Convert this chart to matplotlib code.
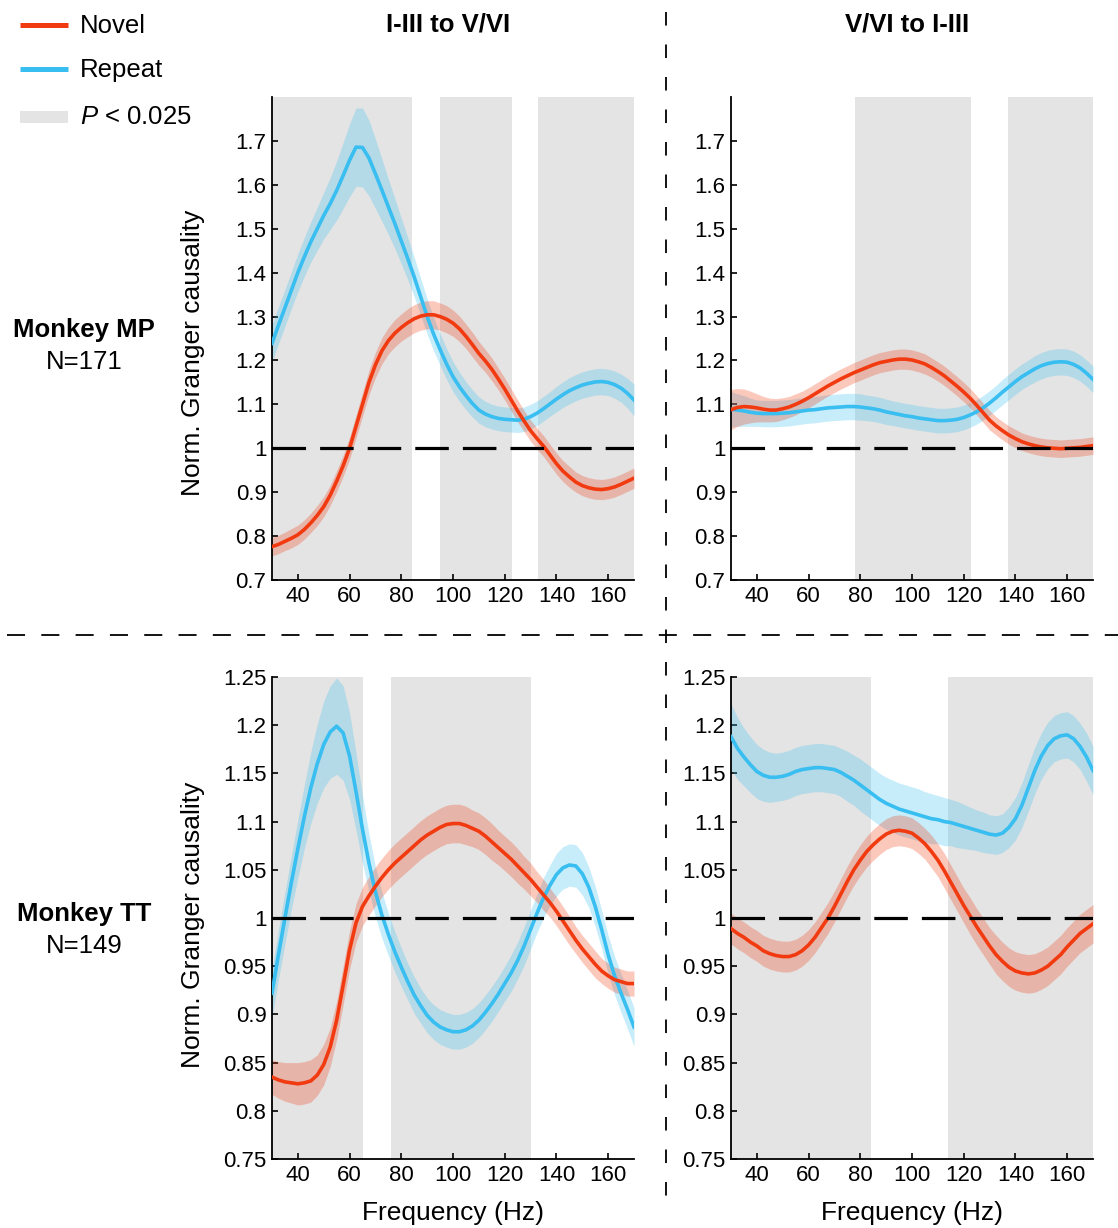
import numpy as np
import matplotlib
matplotlib.use("Agg")
import matplotlib.pyplot as plt
from matplotlib.lines import Line2D
from matplotlib.patches import Rectangle
from matplotlib.ticker import FuncFormatter

plt.rcParams["font.family"] = ["Liberation Sans", "DejaVu Sans"]
plt.rcParams["mathtext.fontset"] = "custom"
plt.rcParams["mathtext.it"] = "Liberation Sans:italic"
plt.rcParams["mathtext.rm"] = "Liberation Sans"

# ---------------------------------------------------------------- data
# frequency grid, 30 to 170 Hz in 2.5 Hz steps
FREQ = np.arange(30, 170.1, 2.5)

# Monkey MP, I-III -> V/VI
MP_FF_NOVEL = [0.776, 0.781, 0.788, 0.795, 0.803,
               0.815, 0.830, 0.847, 0.867, 0.893, 0.925,
               0.960, 1.000, 1.050, 1.100, 1.150, 1.190,
               1.222, 1.245, 1.262, 1.275, 1.286, 1.295,
               1.301, 1.304, 1.304, 1.300, 1.294, 1.285,
               1.272, 1.255, 1.236, 1.216, 1.199, 1.180,
               1.158, 1.135, 1.110, 1.085, 1.062, 1.040,
               1.022, 1.005, 0.985, 0.965, 0.948, 0.935,
               0.923, 0.915, 0.910, 0.907, 0.906, 0.908,
               0.912, 0.918, 0.925, 0.932]
MP_FF_NOVEL_SEM = [0.021, 0.021, 0.021, 0.022, 0.022,
                   0.022, 0.022, 0.023, 0.023, 0.023, 0.024,
                   0.024, 0.025, 0.026, 0.027, 0.028, 0.029,
                   0.030, 0.030, 0.031, 0.031, 0.032, 0.032,
                   0.032, 0.032, 0.032, 0.031, 0.031, 0.030,
                   0.029, 0.028, 0.028, 0.027, 0.026, 0.026,
                   0.025, 0.025, 0.025, 0.025, 0.024, 0.024,
                   0.024, 0.024, 0.024, 0.024, 0.024, 0.024,
                   0.023, 0.023, 0.023, 0.023, 0.023, 0.023,
                   0.023, 0.023, 0.023, 0.023]
MP_FF_REPEAT = [1.239, 1.280, 1.320, 1.360, 1.400,
                1.436, 1.470, 1.500, 1.530, 1.557, 1.587,
                1.621, 1.656, 1.686, 1.685, 1.661, 1.625,
                1.588, 1.550, 1.512, 1.472, 1.432, 1.390,
                1.345, 1.300, 1.260, 1.225, 1.192, 1.163,
                1.140, 1.120, 1.102, 1.087, 1.078, 1.072,
                1.068, 1.066, 1.065, 1.064, 1.066, 1.072,
                1.080, 1.090, 1.101, 1.112, 1.122, 1.131,
                1.138, 1.144, 1.148, 1.151, 1.152, 1.150,
                1.145, 1.137, 1.125, 1.110]
MP_FF_REPEAT_SEM = [0.042, 0.042, 0.042, 0.042, 0.043,
                    0.044, 0.046, 0.049, 0.053, 0.059, 0.067,
                    0.075, 0.083, 0.089, 0.090, 0.086, 0.079,
                    0.071, 0.063, 0.057, 0.052, 0.048, 0.045,
                    0.042, 0.040, 0.038, 0.036, 0.035, 0.034,
                    0.033, 0.032, 0.031, 0.030, 0.029, 0.028,
                    0.028, 0.028, 0.028, 0.028, 0.028, 0.028,
                    0.028, 0.028, 0.028, 0.029, 0.029, 0.030,
                    0.030, 0.030, 0.030, 0.030, 0.030, 0.030,
                    0.031, 0.032, 0.034, 0.036]

# Monkey MP, V/VI -> I-III
MP_FB_NOVEL = [1.088, 1.093, 1.095, 1.094, 1.092,
               1.089, 1.087, 1.087, 1.090, 1.094, 1.100,
               1.107, 1.115, 1.124, 1.133, 1.142, 1.150,
               1.158, 1.165, 1.172, 1.178, 1.184, 1.190,
               1.195, 1.198, 1.201, 1.203, 1.203, 1.201,
               1.197, 1.192, 1.184, 1.175, 1.165, 1.153,
               1.141, 1.128, 1.114, 1.098, 1.081, 1.064,
               1.051, 1.040, 1.030, 1.022, 1.015, 1.010,
               1.006, 1.003, 1.001, 1.000, 0.999, 1.000,
               1.001, 1.002, 1.004, 1.006]
MP_FB_NOVEL_SEM = [0.046, 0.043, 0.040, 0.036, 0.032,
                   0.029, 0.027, 0.026, 0.025, 0.024, 0.024,
                   0.023, 0.023, 0.023, 0.023, 0.023, 0.023,
                   0.023, 0.023, 0.023, 0.023, 0.023, 0.023,
                   0.023, 0.023, 0.023, 0.023, 0.023, 0.023,
                   0.023, 0.023, 0.022, 0.022, 0.022, 0.022,
                   0.022, 0.022, 0.022, 0.022, 0.022, 0.022,
                   0.021, 0.021, 0.021, 0.021, 0.020, 0.020,
                   0.020, 0.020, 0.020, 0.020, 0.020, 0.020,
                   0.020, 0.020, 0.020, 0.020]
MP_FB_REPEAT = [1.089, 1.087, 1.085, 1.082, 1.080,
                1.079, 1.079, 1.079, 1.080, 1.081, 1.083,
                1.085, 1.087, 1.088, 1.090, 1.092, 1.093,
                1.094, 1.095, 1.095, 1.094, 1.092, 1.090,
                1.087, 1.083, 1.080, 1.077, 1.074, 1.072,
                1.069, 1.067, 1.065, 1.063, 1.063, 1.064,
                1.066, 1.070, 1.076, 1.083, 1.092, 1.103,
                1.115, 1.128, 1.140, 1.152, 1.163, 1.172,
                1.181, 1.188, 1.193, 1.196, 1.197, 1.196,
                1.191, 1.183, 1.171, 1.157]
MP_FB_REPEAT_SEM = [0.040, 0.037, 0.035, 0.032, 0.030,
                    0.030, 0.030, 0.030, 0.030, 0.030, 0.030,
                    0.030, 0.030, 0.030, 0.030, 0.030, 0.030,
                    0.030, 0.030, 0.030, 0.030, 0.029, 0.029,
                    0.029, 0.029, 0.028, 0.028, 0.028, 0.028,
                    0.028, 0.028, 0.028, 0.028, 0.028, 0.028,
                    0.028, 0.028, 0.028, 0.028, 0.028, 0.028,
                    0.028, 0.029, 0.029, 0.029, 0.029, 0.029,
                    0.030, 0.030, 0.030, 0.030, 0.030, 0.030,
                    0.030, 0.030, 0.030, 0.030]

# Monkey TT, I-III -> V/VI
TT_FF_NOVEL = [0.835, 0.832, 0.830, 0.829, 0.828,
               0.829, 0.831, 0.837, 0.848, 0.866, 0.894,
               0.930, 0.967, 0.995, 1.012, 1.023, 1.033,
               1.042, 1.050, 1.057, 1.063, 1.069, 1.075,
               1.081, 1.086, 1.090, 1.094, 1.097, 1.098,
               1.098, 1.096, 1.093, 1.090, 1.085, 1.079,
               1.073, 1.067, 1.061, 1.054, 1.047, 1.040,
               1.032, 1.024, 1.016, 1.007, 0.997, 0.987,
               0.977, 0.968, 0.960, 0.952, 0.945, 0.940,
               0.936, 0.934, 0.932, 0.932]
TT_FF_NOVEL_SEM = [0.018, 0.019, 0.020, 0.021, 0.022,
                   0.022, 0.022, 0.021, 0.021, 0.020, 0.020,
                   0.020, 0.020, 0.020, 0.020, 0.020, 0.020,
                   0.020, 0.020, 0.020, 0.020, 0.020, 0.020,
                   0.020, 0.020, 0.020, 0.020, 0.020, 0.020,
                   0.020, 0.020, 0.019, 0.019, 0.019, 0.019,
                   0.018, 0.018, 0.018, 0.018, 0.017, 0.017,
                   0.016, 0.016, 0.015, 0.015, 0.015, 0.015,
                   0.014, 0.014, 0.014, 0.014, 0.013, 0.013,
                   0.013, 0.013, 0.013, 0.013]
TT_FF_REPEAT = [0.922, 0.962, 1.000, 1.037, 1.072,
                1.105, 1.135, 1.160, 1.180, 1.193, 1.199,
                1.192, 1.168, 1.131, 1.092, 1.057, 1.027,
                1.003, 0.983, 0.965, 0.949, 0.934, 0.920,
                0.909, 0.899, 0.892, 0.887, 0.884, 0.882,
                0.882, 0.884, 0.888, 0.894, 0.902, 0.911,
                0.921, 0.932, 0.943, 0.956, 0.971, 0.988,
                1.005, 1.021, 1.034, 1.045, 1.052, 1.055,
                1.054, 1.046, 1.032, 1.012, 0.988, 0.962,
                0.940, 0.922, 0.905, 0.887]
TT_FF_REPEAT_SEM = [0.025, 0.026, 0.027, 0.028, 0.030,
                    0.033, 0.037, 0.041, 0.045, 0.048, 0.050,
                    0.049, 0.045, 0.040, 0.035, 0.030, 0.026,
                    0.024, 0.022, 0.021, 0.020, 0.019, 0.019,
                    0.018, 0.018, 0.018, 0.018, 0.018, 0.018,
                    0.018, 0.018, 0.018, 0.018, 0.018, 0.018,
                    0.018, 0.018, 0.019, 0.019, 0.020, 0.020,
                    0.020, 0.021, 0.021, 0.022, 0.022, 0.022,
                    0.022, 0.022, 0.021, 0.021, 0.020, 0.020,
                    0.020, 0.020, 0.020, 0.020]

# Monkey TT, V/VI -> I-III
TT_FB_NOVEL = [0.989, 0.984, 0.980, 0.975, 0.971,
               0.966, 0.963, 0.961, 0.960, 0.960, 0.962,
               0.966, 0.972, 0.980, 0.990, 1.000, 1.012,
               1.025, 1.038, 1.050, 1.060, 1.069, 1.076,
               1.082, 1.087, 1.090, 1.091, 1.090, 1.088,
               1.083, 1.077, 1.069, 1.060, 1.049, 1.037,
               1.025, 1.013, 1.002, 0.991, 0.981, 0.971,
               0.962, 0.955, 0.949, 0.945, 0.943, 0.942,
               0.943, 0.946, 0.950, 0.956, 0.962, 0.970,
               0.977, 0.984, 0.989, 0.994]
TT_FB_NOVEL_SEM = [0.016, 0.016, 0.016, 0.016, 0.016,
                   0.016, 0.016, 0.016, 0.016, 0.016, 0.016,
                   0.016, 0.016, 0.016, 0.016, 0.016, 0.016,
                   0.016, 0.016, 0.016, 0.016, 0.016, 0.016,
                   0.016, 0.016, 0.016, 0.016, 0.016, 0.016,
                   0.016, 0.016, 0.017, 0.017, 0.018, 0.018,
                   0.018, 0.018, 0.019, 0.019, 0.019, 0.019,
                   0.020, 0.020, 0.020, 0.020, 0.020, 0.020,
                   0.020, 0.020, 0.020, 0.020, 0.020, 0.020,
                   0.020, 0.020, 0.020, 0.020]
TT_FB_REPEAT = [1.188, 1.176, 1.167, 1.159, 1.152,
                1.148, 1.146, 1.146, 1.147, 1.149, 1.152,
                1.154, 1.155, 1.156, 1.156, 1.155, 1.154,
                1.151, 1.147, 1.143, 1.138, 1.133, 1.128,
                1.123, 1.119, 1.116, 1.113, 1.111, 1.109,
                1.107, 1.105, 1.103, 1.102, 1.100, 1.099,
                1.097, 1.095, 1.093, 1.091, 1.089, 1.087,
                1.086, 1.088, 1.094, 1.103, 1.117, 1.135,
                1.153, 1.168, 1.179, 1.186, 1.189, 1.190,
                1.186, 1.178, 1.167, 1.153]
TT_FB_REPEAT_SEM = [0.034, 0.032, 0.030, 0.029, 0.028,
                    0.027, 0.026, 0.025, 0.025, 0.025, 0.025,
                    0.025, 0.025, 0.025, 0.025, 0.025, 0.025,
                    0.025, 0.026, 0.026, 0.027, 0.027, 0.027,
                    0.027, 0.027, 0.027, 0.027, 0.027, 0.027,
                    0.027, 0.026, 0.026, 0.025, 0.025, 0.024,
                    0.024, 0.023, 0.022, 0.021, 0.021, 0.020,
                    0.020, 0.020, 0.021, 0.022, 0.023, 0.024,
                    0.024, 0.024, 0.024, 0.024, 0.024, 0.024,
                    0.024, 0.024, 0.025, 0.025]

# Frequency ranges with P < 0.025
MP_FF_SIG = [(30, 84), (95, 123), (133, 170)]
MP_FB_SIG = [(78, 123), (137, 170)]
TT_FF_SIG = [(30, 65), (76, 130)]
TT_FB_SIG = [(30, 84), (114, 170)]

MP_YTICKS = [0.7, 0.8, 0.9, 1.0, 1.1, 1.2, 1.3, 1.4, 1.5, 1.6, 1.7]
TT_YTICKS = [0.75, 0.8, 0.85, 0.9, 0.95, 1.0, 1.05, 1.1, 1.15, 1.2, 1.25]
XTICKS = [40, 60, 80, 100, 120, 140, 160]

COLUMN_TITLES = ["I-III to V/VI", "V/VI to I-III"]
ROW_TITLES = [("Monkey MP", "N=171"), ("Monkey TT", "N=149")]
YLABEL = "Norm. Granger causality"
XLABEL = "Frequency (Hz)"

# ---------------------------------------------------------------- style
RED = "#F23A10"
BLUE = "#38BEF0"
SHADE = "#E4E4E4"
TICK_FS = 16
LABEL_FS = 18.5

W, H = 1118, 1228
fig = plt.figure(figsize=(W / 100, H / 100), dpi=100)


def axes_px(x0, y0, x1, y1):
    return fig.add_axes([x0 / W, 1 - y1 / H, (x1 - x0) / W, (y1 - y0) / H])


def draw_panel(ax, novel, novel_sem, repeat, repeat_sem, sig, ylim, yticks, xlabel):
    for a, b in sig:
        ax.axvspan(a, b, color=SHADE, lw=0, zorder=0)
    for vals, sem, col in ((repeat, repeat_sem, BLUE), (novel, novel_sem, RED)):
        vals = np.asarray(vals)
        sem = np.asarray(sem)
        ax.fill_between(FREQ, vals - sem, vals + sem, color=col, alpha=0.28,
                        lw=0, zorder=2)
    ax.plot(FREQ, repeat, color=BLUE, lw=2.6, zorder=4, solid_joinstyle="round")
    ax.plot(FREQ, novel, color=RED, lw=2.6, zorder=4, solid_joinstyle="round")
    ax.axhline(1.0, color="black", lw=2.3, ls=(0, (10.5, 4.4)), zorder=5)

    ax.set_xlim(30, 170)
    ax.set_ylim(*ylim)
    ax.set_xticks(XTICKS)
    ax.set_yticks(yticks)
    ax.yaxis.set_major_formatter(FuncFormatter(lambda v, p: f"{v:g}"))
    for s in ("top", "right"):
        ax.spines[s].set_visible(False)
    for s in ("left", "bottom"):
        ax.spines[s].set_linewidth(1.3)
    ax.tick_params(direction="in", length=4, width=1.2, labelsize=TICK_FS, pad=4)
    ax.set_facecolor("white")
    if xlabel:
        ax.set_xlabel(XLABEL, fontsize=LABEL_FS + 0.5, labelpad=11)


ax_tl = axes_px(272, 97, 634, 580)
ax_tr = axes_px(731, 97, 1093, 580)
ax_bl = axes_px(272, 677, 634, 1159)
ax_br = axes_px(731, 677, 1093, 1159)

draw_panel(ax_tl, MP_FF_NOVEL, MP_FF_NOVEL_SEM, MP_FF_REPEAT, MP_FF_REPEAT_SEM,
           MP_FF_SIG, (0.7, 1.8), MP_YTICKS, False)
draw_panel(ax_tr, MP_FB_NOVEL, MP_FB_NOVEL_SEM, MP_FB_REPEAT, MP_FB_REPEAT_SEM,
           MP_FB_SIG, (0.7, 1.8), MP_YTICKS, False)
draw_panel(ax_bl, TT_FF_NOVEL, TT_FF_NOVEL_SEM, TT_FF_REPEAT, TT_FF_REPEAT_SEM,
           TT_FF_SIG, (0.75, 1.25), TT_YTICKS, True)
draw_panel(ax_br, TT_FB_NOVEL, TT_FB_NOVEL_SEM, TT_FB_REPEAT, TT_FB_REPEAT_SEM,
           TT_FB_SIG, (0.75, 1.25), TT_YTICKS, True)

# y-axis labels on the left column
fig.text(193 / W, 1 - 353 / H, YLABEL, rotation=90, ha="center", va="center",
         fontsize=LABEL_FS + 0.5)
fig.text(193 / W, 1 - 925 / H, YLABEL, rotation=90, ha="center", va="center",
         fontsize=LABEL_FS + 0.5)

# column titles
fig.text(448 / W, 1 - 24 / H, COLUMN_TITLES[0], ha="center", va="center",
         fontsize=LABEL_FS, fontweight="bold")
fig.text(907 / W, 1 - 24 / H, COLUMN_TITLES[1], ha="center", va="center",
         fontsize=LABEL_FS, fontweight="bold")

# row titles
for (name, n), yc in zip(ROW_TITLES, (330, 914)):
    fig.text(84 / W, 1 - yc / H, name, ha="center", va="center",
             fontsize=LABEL_FS, fontweight="bold")
    fig.text(84 / W, 1 - (yc + 32) / H, n, ha="center", va="center",
             fontsize=LABEL_FS)

# dashed dividers between panels
fig.add_artist(Line2D([665.5 / W, 665.5 / W], [1 - 12 / H, 1 - 1196 / H],
                      transform=fig.transFigure, color="black", lw=1.3,
                      ls=(0, (7.5, 10.5))))
fig.add_artist(Line2D([7 / W, 1118 / W], [1 - 635 / H, 1 - 635 / H],
                      transform=fig.transFigure, color="black", lw=1.3,
                      ls=(0, (10, 9))))

# legend
fig.add_artist(Line2D([20 / W, 68 / W], [1 - 25 / H] * 2, transform=fig.transFigure,
                      color=RED, lw=3.6, solid_capstyle="butt"))
fig.add_artist(Line2D([20 / W, 68 / W], [1 - 69 / H] * 2, transform=fig.transFigure,
                      color=BLUE, lw=3.6, solid_capstyle="butt"))
fig.add_artist(Rectangle((20 / W, 1 - 123 / H), 48 / W, 12 / H,
                         transform=fig.transFigure, color=SHADE, lw=0))
fig.text(80 / W, 1 - 26 / H, "Novel", ha="left", va="center", fontsize=LABEL_FS)
fig.text(80 / W, 1 - 70 / H, "Repeat", ha="left", va="center", fontsize=LABEL_FS)
fig.text(80 / W, 1 - 117 / H, r"$P$ < 0.025", ha="left", va="center",
         fontsize=LABEL_FS)

fig.savefig("out.png", dpi=100, facecolor="white")
